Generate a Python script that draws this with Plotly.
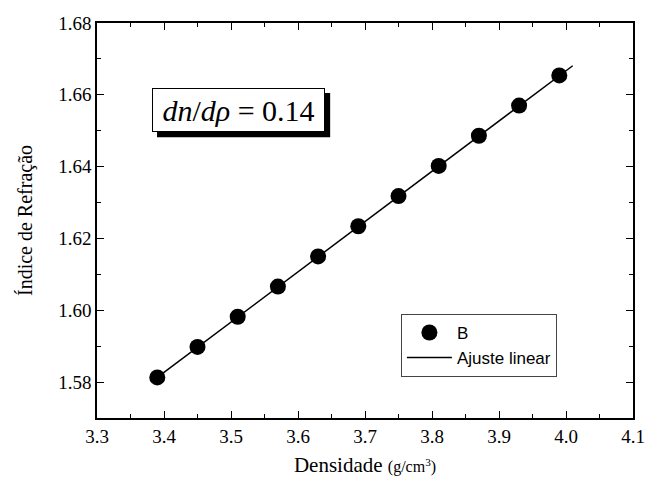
import plotly.graph_objects as go

densidade = [3.39, 3.45, 3.51, 3.57, 3.63, 3.69, 3.75, 3.81, 3.87, 3.93, 3.99]
indice = [1.5813, 1.5898, 1.5982, 1.6066, 1.6150, 1.6234, 1.6318, 1.6402, 1.6486, 1.6570, 1.6654]
fit_x = [3.39, 4.01]
fit_y = [1.5813, 1.6681]

fig = go.Figure()
fig.add_trace(go.Scatter(x=densidade, y=indice, mode="markers", name="B",
                         marker=dict(color="black", size=16, symbol="circle")))
fig.add_trace(go.Scatter(x=fit_x, y=fit_y, mode="lines", name="Ajuste linear",
                         line=dict(color="black", width=1.5)))

serif = "Liberation Serif, Times New Roman, serif"
axis_common = dict(showline=True, linecolor="black", linewidth=1.5, mirror="allticks",
                   ticks="inside", ticklen=7, tickwidth=1.2, tickcolor="black",
                   showgrid=False, zeroline=False, automargin=False,
                   tickfont=dict(family=serif, size=19, color="black"))
fig.update_xaxes(range=[3.3, 4.1], dtick=0.1, tickformat=".1f",
                 minor=dict(ticks="inside", ticklen=4, dtick=0.05, tickcolor="black", tickwidth=1),
                 title=dict(text="Densidade <span style='font-size:16px'>(g/cm<sup>3</sup>)</span>",
                            font=dict(family=serif, size=21, color="black"), standoff=12),
                 **axis_common)
fig.update_yaxes(range=[1.57, 1.68], dtick=0.02, tickformat=".2f",
                 minor=dict(ticks="inside", ticklen=4, dtick=0.01, tickcolor="black", tickwidth=1),
                 title=dict(text="Índice de Refração",
                            font=dict(family=serif, size=20, color="black"), standoff=20),
                 **axis_common)

fig.add_shape(type="rect", xref="paper", yref="paper", x0=0.112, x1=0.435, y0=0.711, y1=0.823,
              fillcolor="black", line=dict(width=0), layer="above")
fig.add_annotation(xref="paper", yref="paper", x=0.1026, y=0.835, xanchor="left", yanchor="top",
                   showarrow=False, width=171, height=42, align="center", valign="middle",
                   bgcolor="white", bordercolor="black", borderwidth=1, borderpad=0,
                   text="<i>dn</i>/<i>dρ</i> = 0.14",
                   font=dict(family=serif, size=30, color="black"))

fig.update_layout(
    width=647, height=486,
    margin=dict(l=97, r=14, t=23, b=68, autoexpand=False),
    paper_bgcolor="white", plot_bgcolor="white",
    showlegend=True,
    legend=dict(x=0.567, y=0.104, xanchor="left", yanchor="bottom",
                bgcolor="white", bordercolor="#444", borderwidth=1,
                font=dict(family="Liberation Sans, Arial, sans-serif", size=17, color="black"),
                tracegroupgap=0, itemwidth=45),
)

fig.write_html("out.html", config={"displayModeBar": False},
               post_script="document.body.style.margin='0';document.body.style.overflow='hidden';")
